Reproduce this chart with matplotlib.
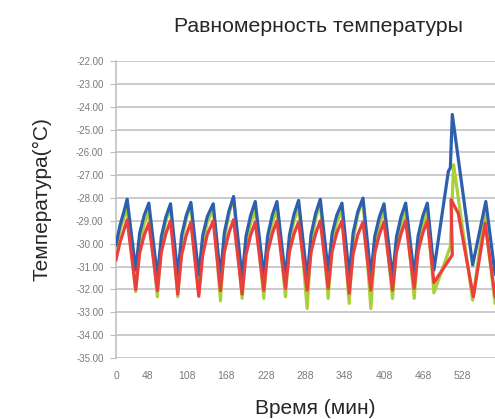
import numpy as np
import matplotlib
matplotlib.use('Agg')
import matplotlib.pyplot as plt

plt.rcParams['font.family'] = ['Liberation Sans', 'DejaVu Sans']
plt.rcParams['axes.unicode_minus'] = False

# shared sample times (minutes) for the regular cycles
t_main = [0, 6, 12, 17,
          30, 36, 43, 50,
          63, 69, 76, 83,
          94, 100, 107, 114,
          126, 132, 139, 148,
          159, 165, 172, 179,
          192, 198, 205, 212,
          225, 231, 238, 245,
          258, 264, 271, 278,
          291, 297, 304, 311,
          323, 329, 336, 344,
          355, 361, 368, 376,
          388, 394, 401, 408,
          421, 427, 434, 441,
          454, 460, 467, 474,
          484]

blue_main = [-30.05, -29.2, -28.6, -28.05,
             -31.15, -29.54, -28.75, -28.22,
             -31.44, -29.69, -28.82, -28.25,
             -31.37, -29.62, -28.76, -28.19,
             -31.37, -29.65, -28.81, -28.25,
             -31.44, -29.51, -28.56, -27.93,
             -31.51, -29.66, -28.76, -28.15,
             -31.44, -29.63, -28.74, -28.15,
             -31.5, -29.63, -28.71, -28.1,
             -31.5, -29.6, -28.67, -28.05,
             -31.2, -29.56, -28.76, -28.22,
             -31.4, -29.53, -28.61, -28.0,
             -31.4, -29.67, -28.82, -28.25,
             -31.5, -29.7, -28.81, -28.22,
             -31.4, -29.65, -28.79, -28.22,
             -31.15]

green_main = [-30.2, -29.4, -28.85, -28.5,
              -32.1, -30.0, -29.13, -28.6,
              -32.32, -29.97, -29.0, -28.4,
              -32.32, -29.91, -28.9, -28.3,
              -32.17, -29.97, -29.05, -28.5,
              -32.5, -29.8, -28.68, -28.0,
              -32.39, -30.06, -29.08, -28.5,
              -32.39, -30.06, -29.08, -28.5,
              -32.32, -29.97, -29.0, -28.4,
              -32.83, -30.05, -28.89, -28.2,
              -32.39, -30.06, -29.08, -28.5,
              -32.61, -29.87, -28.73, -28.05,
              -32.83, -30.23, -29.15, -28.5,
              -32.39, -30.12, -29.17, -28.6,
              -32.39, -30.12, -29.17, -28.6,
              -32.15]

red_main = [-30.7, -29.95, -29.4, -28.95,
            -32.0, -30.41, -29.62, -29.1,
            -32.05, -30.37, -29.55, -29.0,
            -32.2, -30.47, -29.62, -29.05,
            -32.3, -30.49, -29.59, -29.0,
            -32.05, -30.35, -29.51, -28.95,
            -32.2, -30.47, -29.62, -29.05,
            -32.03, -30.36, -29.55, -29.0,
            -31.95, -30.36, -29.57, -29.05,
            -32.03, -30.36, -29.55, -29.0,
            -31.95, -30.33, -29.53, -29.0,
            -32.17, -30.45, -29.61, -29.05,
            -32.03, -30.39, -29.59, -29.05,
            -32.03, -30.36, -29.55, -29.0,
            -31.95, -30.33, -29.53, -29.0,
            -31.7]

# the disturbance near the end
blue_tail_t = [506, 509, 512, 543, 563, 577, 590]
blue_tail_v = [-26.83, -26.68, -24.34, -30.93, -28.15, -31.3, -32.0]
green_tail_t = [509, 514, 543, 561, 577, 590]
green_tail_v = [-30.12, -26.54, -32.47, -28.73, -32.6, -33.0]
red_tail_t = [512, 510, 521, 544, 562, 577, 590]
red_tail_v = [-30.49, -28.07, -28.66, -32.32, -29.1, -32.3, -32.8]

x_ticks = [0, 48, 108, 168, 228, 288, 348, 408, 468, 528]
y_ticks = list(range(-35, -21))

W, H = 495, 419
fig = plt.figure(figsize=(W / 100, H / 100), dpi=100)
ax = fig.add_axes([116 / W, 1 - 358 / H, 1 - 116 / W, (358 - 61) / H])

ax.plot(t_main + green_tail_t, green_main + green_tail_v, color='#a9cf3a', lw=2.3, zorder=3)
ax.plot(t_main + blue_tail_t, blue_main + blue_tail_v, color='#2d5fac', lw=2.3, zorder=4)
ax.plot(t_main + red_tail_t, red_main + red_tail_v, color='#e9403d', lw=2.3, zorder=5)

ax.set_xlim(0, 577)
ax.set_ylim(-35, -22)
ax.set_xticks(x_ticks)
ax.set_yticks(y_ticks)
ax.set_yticklabels([f'{v:.2f}' for v in y_ticks])
ax.grid(axis='y', color='#bdbdbd', lw=1.1)
ax.set_axisbelow(True)

for side in ['top', 'right', 'bottom']:
    ax.spines[side].set_visible(False)
ax.spines['left'].set_color('#bdbdbd')
ax.spines['left'].set_linewidth(1.1)

ax.tick_params(axis='y', length=4, width=0.8, color='#bdbdbd', pad=5,
               labelsize=7, labelcolor='#7a7a7a')
ax.tick_params(axis='x', length=0, pad=9, labelsize=7.5, labelcolor='#7a7a7a')

fig.text(318 / W, 1 - 26 / H, 'Равномерность температуры', ha='center', va='center',
         fontsize=15.3, color='#262626')
fig.text(42 / W, 1 - 199 / H, 'Температура(°C)', ha='center', va='center',
         rotation=90, fontsize=15, color='#262626')
fig.text(315 / W, 1 - 408 / H, 'Время (мин)', ha='center', va='center',
         fontsize=15, color='#262626')

fig.savefig('out.png', dpi=100)
